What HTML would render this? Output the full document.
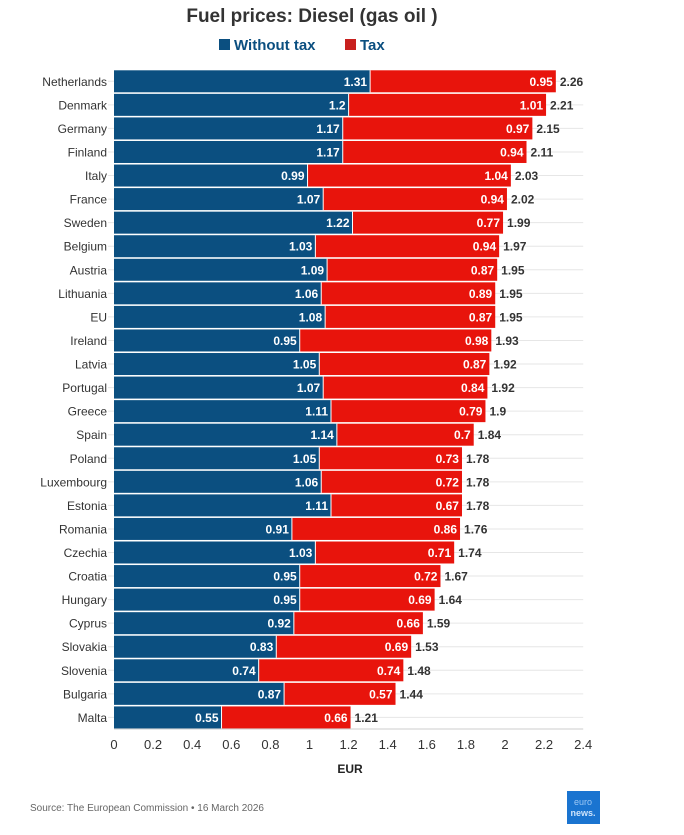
<!DOCTYPE html>
<html><head><meta charset="utf-8"><style>
body{margin:0;background:#fff;width:684px;height:835px;overflow:hidden}
svg{display:block}
text{font-family:"Liberation Sans",sans-serif}
</style></head><body>
<svg width="684" height="835" viewBox="0 0 684 835" xmlns="http://www.w3.org/2000/svg">
<text x="312" y="22" text-anchor="middle" font-size="19" font-weight="bold" fill="#333">Fuel prices: Diesel (gas oil )</text>
<rect x="219" y="39" width="11" height="11" fill="#0b4f80"/>
<text x="234" y="50" font-size="15" font-weight="bold" fill="#0b4f80">Without tax</text>
<rect x="345" y="39" width="11" height="11" fill="#c8201e"/>
<text x="360" y="50" font-size="15" font-weight="bold" fill="#0b4f80">Tax</text>
<g stroke="#e6e6e6" stroke-width="1" id="grid"></g>
<g id="bars"></g>
<g font-size="13" fill="#333" text-anchor="middle" id="ticks"></g>
<text x="350" y="773" text-anchor="middle" font-size="12" font-weight="bold" fill="#222">EUR</text>
<text x="30" y="811" font-size="10" fill="#666">Source: The European Commission • 16 March 2026</text>
<rect x="567" y="791" width="33" height="33" fill="#1a74d0"/>
<text x="583" y="805" text-anchor="middle" font-size="9" fill="#9cc8f5">euro</text>
<text x="583" y="816" text-anchor="middle" font-size="9" font-weight="bold" fill="#cfe4fb">news.</text>
</svg>
<script>
var d=[["Netherlands",1.31,0.95,2.26],["Denmark",1.2,1.01,2.21],["Germany",1.17,0.97,2.15],["Finland",1.17,0.94,2.11],["Italy",0.99,1.04,2.03],["France",1.07,0.94,2.02],["Sweden",1.22,0.77,1.99],["Belgium",1.03,0.94,1.97],["Austria",1.09,0.87,1.95],["Lithuania",1.06,0.89,1.95],["EU",1.08,0.87,1.95],["Ireland",0.95,0.98,1.93],["Latvia",1.05,0.87,1.92],["Portugal",1.07,0.84,1.92],["Greece",1.11,0.79,1.9],["Spain",1.14,0.7,1.84],["Poland",1.05,0.73,1.78],["Luxembourg",1.06,0.72,1.78],["Estonia",1.11,0.67,1.78],["Romania",0.91,0.86,1.76],["Czechia",1.03,0.71,1.74],["Croatia",0.95,0.72,1.67],["Hungary",0.95,0.69,1.64],["Cyprus",0.92,0.66,1.59],["Slovakia",0.83,0.69,1.53],["Slovenia",0.74,0.74,1.48],["Bulgaria",0.87,0.57,1.44],["Malta",0.55,0.66,1.21]];
var NS="http://www.w3.org/2000/svg",x0=114,k=195.5,y0=70.3,p=23.56,h=22;
function el(t,a,par,txt){var e=document.createElementNS(NS,t);for(var i in a)e.setAttribute(i,a[i]);if(txt!=null)e.textContent=txt;document.getElementById(par).appendChild(e);return e;}
for(var i=0;i<28;i++){var c=y0+i*p+h/2;el("line",{x1:x0-6,x2:x0+2.4*k,y1:c,y2:c},"grid");}
d.forEach(function(r,i){var y=y0+i*p,c=y+h/2+4.5,b=x0+r[1]*k,e=x0+(r[1]+r[2])*k;
el("rect",{x:x0,y:y,width:r[1]*k,height:h,fill:"#0b4f80"},"bars");
el("rect",{x:b,y:y,width:e-b,height:h,fill:"#e8140c"},"bars");
el("line",{x1:b,x2:b,y1:y,y2:y+h,stroke:"#fff","stroke-width":1},"bars");
el("text",{x:x0-7,y:c,"text-anchor":"end","font-size":12,fill:"#333"},"bars",r[0]);
el("text",{x:b-3,y:c,"text-anchor":"end","font-size":12,"font-weight":"bold",fill:"#fff"},"bars",String(r[1]));
el("text",{x:e-3,y:c,"text-anchor":"end","font-size":12,"font-weight":"bold",fill:"#fff"},"bars",String(r[2]));
el("text",{x:e+4,y:c,"font-size":12,"font-weight":"bold",fill:"#333"},"bars",String(r[3]));});
el("line",{x1:x0,x2:x0+2.4*k,y1:y0+28*p-1,y2:y0+28*p-1,stroke:"#ccc"},"grid");
["0","0.2","0.4","0.6","0.8","1","1.2","1.4","1.6","1.8","2","2.2","2.4"].forEach(function(t,i){el("text",{x:x0+i*0.2*k,y:749},"ticks",t);});
</script>
</body></html>
